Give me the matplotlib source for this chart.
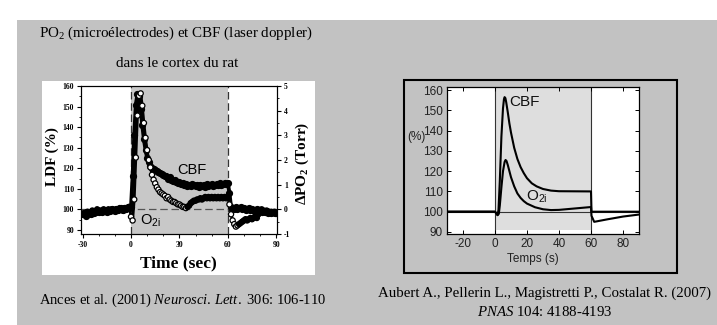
import numpy as np
import matplotlib
matplotlib.use("Agg")
import matplotlib.pyplot as plt
from matplotlib.patches import Rectangle

plt.rcParams['mathtext.fontset'] = 'custom'
plt.rcParams['mathtext.rm'] = 'Liberation Serif'
plt.rcParams['mathtext.it'] = 'Liberation Serif:italic'
plt.rcParams['mathtext.default'] = 'regular'
plt.rcParams['axes.unicode_minus'] = False

# ---- left panel: Ances et al. 2001, one sample per second
t_ances = np.arange(-30, 91)
cbf_ances = [97.5, 98, 97, 98.5, 98, 97.5, 99, 98, 98.5, 99.5,
             98.5, 99, 98.5, 99.5, 99, 98.5, 99.5, 99, 100, 99.5,
             99, 100, 99.5, 100, 100.5, 99.5, 100.5, 100, 101, 100.5,
             101, 116, 136, 151, 156, 155, 149, 141, 134, 129,
             125, 123, 121, 120, 119.5, 119, 118.5, 118, 117.5, 117,
             116.5, 116, 116, 115, 115.5, 114.5, 114, 114.5, 113.5, 113,
             113.5, 112.5, 113, 112, 112.5, 111.5, 112, 111.5, 112.5, 112,
             111.5, 112, 111, 112, 111.5, 112, 111, 112.5, 111.5, 112,
             112.5, 111.5, 112, 112.5, 112, 113, 112, 112.5, 113, 112.5,
             113, 108, 101, 100.5, 100, 101, 100, 100.5, 101, 100,
             100.5, 99.5, 100, 100.5, 99.5, 100, 99, 99.5, 100, 99,
             99.5, 98.5, 99, 98.5, 99, 98, 98.5, 98, 98.5, 98,
             98]
po2_ances = [-0.2, -0.15, -0.25, -0.1, -0.15, -0.2, -0.05, -0.15, -0.1, 0.0,
             -0.1, -0.05, -0.1, 0.0, -0.05, -0.1, 0.0, -0.05, 0.0, -0.05,
             -0.05, 0.0, -0.05, 0.05, 0.0, -0.05, 0.05, 0.0, 0.05, 0.1,
             -0.3, -0.45, 0.4, 2.1, 3.8, 4.6, 4.7, 4.2, 3.5, 2.9,
             2.4, 2.0, 1.7, 1.4, 1.2, 1.05, 0.9, 0.8, 0.7, 0.65,
             0.6, 0.55, 0.45, 0.5, 0.4, 0.35, 0.3, 0.3, 0.25, 0.2,
             0.2, 0.15, 0.1, 0.1, 0.05, 0.1, 0.15, 0.25, 0.3, 0.35,
             0.35, 0.4, 0.4, 0.45, 0.4, 0.45, 0.5, 0.45, 0.5, 0.45,
             0.5, 0.45, 0.5, 0.45, 0.5, 0.45, 0.5, 0.45, 0.5, 0.45,
             0.5, 0.2, -0.2, -0.45, -0.6, -0.7, -0.65, -0.6, -0.55, -0.5,
             -0.45, -0.4, -0.45, -0.4, -0.35, -0.4, -0.35, -0.3, -0.35, -0.2,
             -0.1, 0.0, -0.05, -0.1, -0.05, -0.1, -0.15, -0.1, -0.15, -0.1,
             -0.15]

# ---- right panel: Aubert et al. 2007 model
t_cbf_model = [-30, 0, 1, 1.6, 2.2, 3, 4, 5, 5.6, 6, 6.5, 7, 8, 9, 10, 12, 14,
               16, 18, 20, 23, 26, 30, 35, 40, 60, 60.3, 90]
cbf_model = [100, 100, 99, 98.3, 101, 115, 137, 151, 155.5, 156.5, 156, 154,
             149, 143.5, 139, 131.5, 126, 122, 119, 116.5, 114, 112.5, 111.2,
             110.4, 110.1, 110, 100, 100]
t_o2_model = [-30, 0, 1, 1.6, 2.4, 3, 4, 5, 6, 6.6, 7.2, 8, 10, 12, 14, 16, 18,
              20, 25, 30, 35, 40, 50, 60, 60.3, 62, 64, 70, 80, 90]
o2_model = [100, 100, 99, 98.3, 99, 103, 112, 120, 124.5, 125.5, 125, 123,
            117, 112.5, 109, 106.8, 105.2, 104, 102.2, 101.2, 100.8, 100.9,
            101.6, 102.3, 98, 95, 95.3, 96.2, 97.6, 98.6]

ances_ticks_x = [-30, 0, 30, 60, 90]
ances_ticks_y = [90, 100, 110, 120, 130, 140, 150, 160]
ances_ticks_po2 = [-1, 0, 1, 2, 3, 4, 5]
model_ticks_x = [-20, 0, 20, 40, 60, 80]
model_ticks_y = [90, 100, 110, 120, 130, 140, 150, 160]

serif = 'Liberation Serif'
sans = 'Liberation Sans'
grey_bg = '#c2c2c2'

fig = plt.figure(figsize=(7.17, 3.25), dpi=100)
fig.patch.set_facecolor('white')
fig.patches.append(Rectangle((17 / 717, 0), 1, 1 - 20 / 325, transform=fig.transFigure,
                             facecolor=grey_bg, edgecolor='none', zorder=-3))
fig.patches.append(Rectangle((42 / 717, 50 / 325), 273 / 717, 194 / 325, transform=fig.transFigure,
                             facecolor='white', edgecolor='none', zorder=-2))
fig.patches.append(Rectangle((404 / 717, 52 / 325), 273 / 717, 193 / 325, transform=fig.transFigure,
                             facecolor=grey_bg, edgecolor='black', lw=1.5, zorder=-2))

fig.text(0.2455, 0.898, 'PO$_2$ (microélectrodes) et CBF (laser doppler)', family=serif,
         fontsize=10.8, ha='center', va='center')
fig.text(0.2469, 0.806, 'dans le cortex du rat', family=serif, fontsize=10.8, ha='center', va='center')

# ---------------- left chart
ax = fig.add_axes([81 / 717, 91 / 325, 196 / 717, 148 / 325])
ax.set_xlim(-31, 90.5)
ax.set_ylim(88, 160)
ax.axvspan(0, 60, color='#c8c8c8', zorder=0, lw=0)
ax.axvline(0, color='#333333', ls=(0, (6, 3)), lw=0.9, zorder=1)
ax.axvline(60, color='#333333', ls=(0, (6, 3)), lw=0.9, zorder=1)
ax.axhline(100, color='#555555', ls=(0, (6, 3)), lw=0.9, zorder=1)

ax2 = ax.twinx()
ax2.set_ylim(-1, 5)
ax2.set_zorder(ax.get_zorder() + 1)
ax2.patch.set_visible(False)

ax.plot(t_ances, cbf_ances, color='black', lw=2.8, marker='o', ms=4.2, mfc='black', mec='black', zorder=3)
ax2.plot(t_ances, po2_ances, color='black', lw=2.0, zorder=3)
open_face = ['white' if (0 <= t <= 34) or (60 < t <= 66) else 'black' for t in t_ances]
ax2.scatter(t_ances, po2_ances, s=14, facecolors=open_face, edgecolors='black', linewidths=0.9, zorder=4)

ax.set_xticks(ances_ticks_x)
ax.set_yticks(ances_ticks_y)
ax2.set_yticks(ances_ticks_po2)
ax.set_xticks(np.arange(-30, 91, 10), minor=True)
ax.set_yticks(np.arange(90, 161, 5), minor=True)
ax2.set_yticks(np.arange(-1, 5.1, 0.5), minor=True)
for a in (ax, ax2):
    a.tick_params(which='major', length=3, width=0.8, labelsize=5.5, pad=2)
    a.tick_params(which='minor', length=1.5, width=0.6)
    for lab in a.get_xticklabels() + a.get_yticklabels():
        lab.set_family(serif)
        lab.set_weight('bold')
for s in ax.spines.values():
    s.set_linewidth(0.8)

ax.text(28.5, 119, 'CBF', family=sans, fontsize=10.5, va='center', zorder=5)
ax.text(5.4, 94.3, 'O$_{2i}$', family=sans, fontsize=10.5, va='center', zorder=5)

fig.text(52 / 717, 1 - 157 / 325, 'LDF (%)', family=serif, weight='bold', fontsize=11,
         rotation=90, ha='center', va='center')
fig.text(302 / 717, 1 - 163 / 325, 'ΔPO$_2$ (Torr)', family=serif, weight='bold', fontsize=11,
         rotation=90, ha='center', va='center')
fig.text(178 / 717, 1 - 263 / 325, 'Time (sec)', family=serif, weight='bold', fontsize=12.5,
         ha='center', va='center')

# ---------------- right chart
bx = fig.add_axes([447 / 717, 91 / 325, 192 / 717, 147 / 325])
bx.set_xlim(-30, 90)
bx.set_ylim(89, 161.5)
bx.axvspan(0, 60, ymin=0.03, color='#dedede', zorder=0, lw=0)
bx.axvline(0, color='#333333', lw=0.8, zorder=1)
bx.axvline(60, color='#333333', lw=0.8, zorder=1)
bx.axhline(100, color='#333333', lw=0.8, zorder=1)
bx.plot(t_cbf_model, cbf_model, color='black', lw=1.5, zorder=3)
bx.plot(t_o2_model, o2_model, color='black', lw=1.5, zorder=3)
bx.set_xticks(model_ticks_x)
bx.set_yticks(model_ticks_y)
bx.tick_params(direction='in', top=True, right=True, length=3, width=0.7,
               labelsize=8.5, labelcolor='#222222', pad=3)
for lab in bx.get_xticklabels() + bx.get_yticklabels():
    lab.set_family(sans)
for s in bx.spines.values():
    s.set_linewidth(0.9)
bx.text(9, 154, 'CBF', family=sans, fontsize=11, va='center', color='#111111')
bx.text(19.5, 107.5, 'O$_{2i}$', family=sans, fontsize=11, va='center', color='#111111')
fig.text(416 / 717, 1 - 137 / 325, '(%)', family=sans, fontsize=8.5, color='#222222',
         ha='center', va='center')
fig.text(533 / 717, 1 - 259 / 325, 'Temps (s)', family=sans, fontsize=8.5, color='#222222',
         ha='center', va='center')

# ---------------- references
fig.text(183 / 717, 1 - 300 / 325, 'Ances et al. (2001) $\\it{Neurosci.\\,Lett.}$ 306: 106-110',
         family=serif, fontsize=10.5, ha='center', va='center')
fig.text(545 / 717, 1 - 293 / 325, 'Aubert A., Pellerin L., Magistretti P., Costalat R. (2007)',
         family=serif, fontsize=10.7, ha='center', va='center')
fig.text(545 / 717, 1 - 312 / 325, '$\\it{PNAS}$ 104: 4188-4193',
         family=serif, fontsize=10.7, ha='center', va='center')

fig.savefig('out.png', dpi=100)
